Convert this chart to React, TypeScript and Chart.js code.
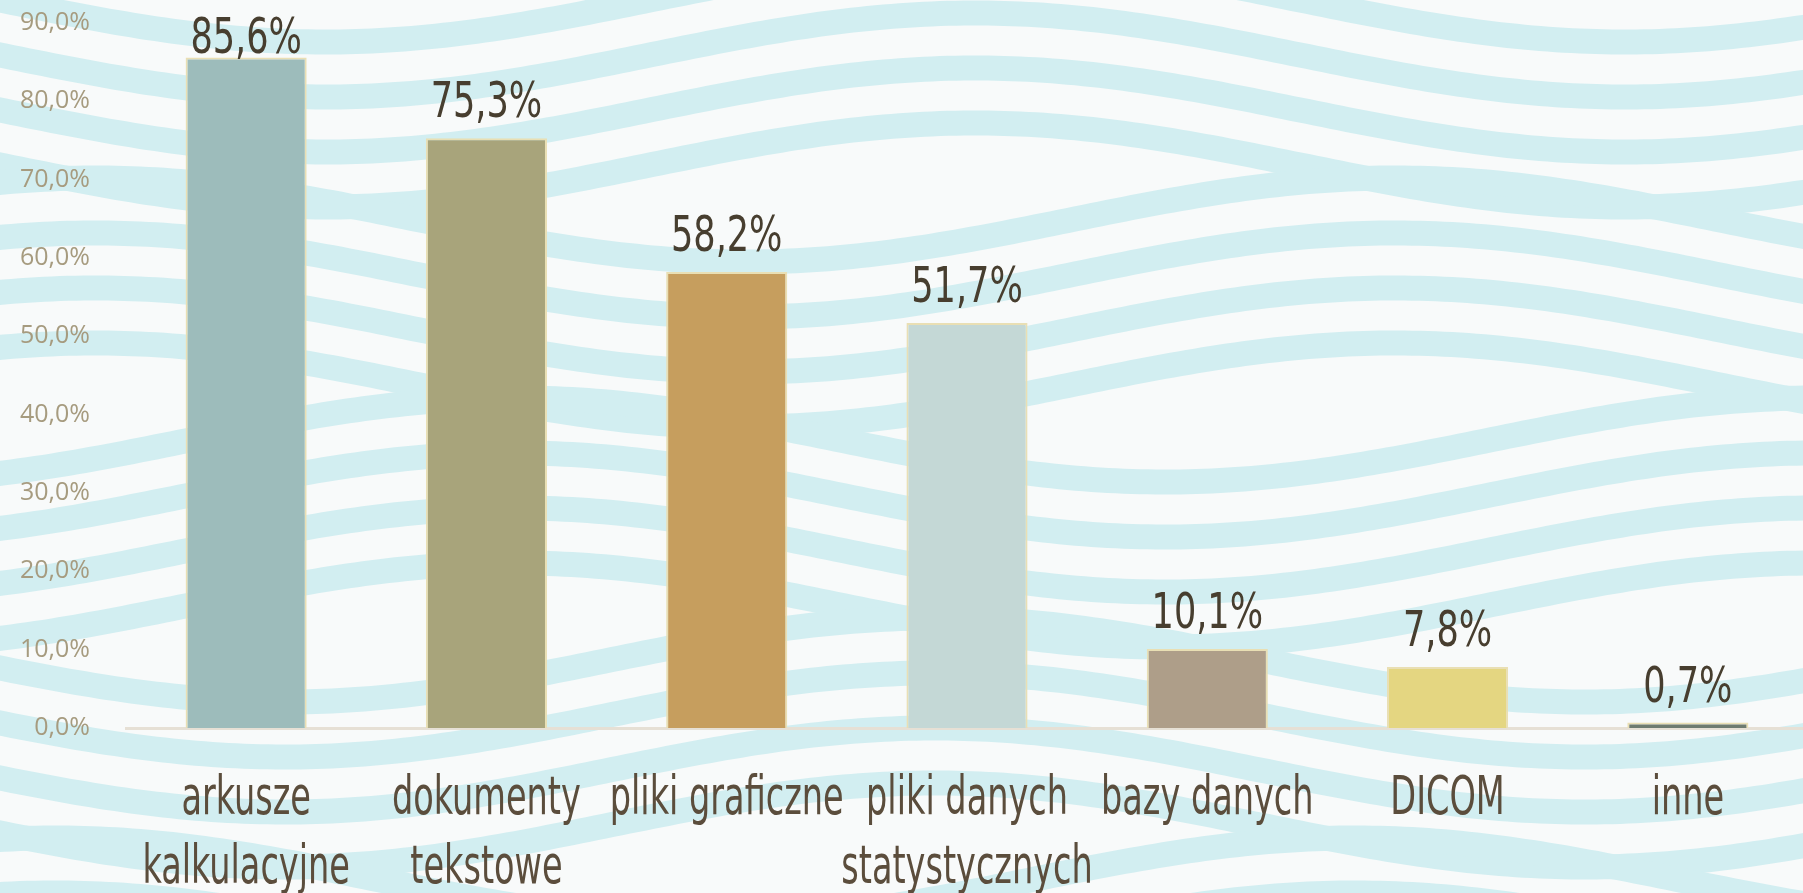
import React, { useEffect, useRef } from 'react';
import { Chart, registerables } from 'chart.js';

Chart.register(...registerables);

// ---- data ----
const categoryLines: string[][] = [
  ['arkusze', 'kalkulacyjne'],
  ['dokumenty', 'tekstowe'],
  ['pliki graficzne'],
  ['pliki danych', 'statystycznych'],
  ['bazy danych'],
  ['DICOM'],
  ['inne'],
];
const values: number[] = [85.6, 75.3, 58.2, 51.7, 10.1, 7.8, 0.7];
const barColors: string[] = ['#9DBCBB', '#A8A47B', '#C69E5E', '#C4D8D6', '#AE9E89', '#E4D681', '#6E7B70'];
const yMin = 0;
const yMax = 90;
const yStep = 10;

const W = 1808;
const H = 893;
const NARROW = '"DejaVu Sans Condensed", "Liberation Sans Narrow", Roboto, sans-serif';

const fmt = (v: number) => v.toFixed(1).replace('.', ',') + '%';

const backgroundPlugin = {
  id: 'wavyBackground',
  beforeDraw(chart: any) {
    const ctx = chart.ctx as CanvasRenderingContext2D;
    ctx.save();
    ctx.fillStyle = '#F8FAFA';
    ctx.fillRect(0, 0, chart.width, chart.height);
    const P = 55;
    const A = 42;
    const L = 1300;
    ctx.strokeStyle = '#D2EEF1';
    ctx.lineWidth = 25;
    for (let k = -5; k < chart.height / P + 5; k++) {
      const group = Math.floor(k / 4);
      const phase = (((group % 2) + 2) % 2) * Math.PI;
      const shift = group * 230;
      ctx.beginPath();
      for (let x = -20; x <= chart.width + 20; x += 8) {
        const y = k * P + A * Math.sin((2 * Math.PI * (x + shift)) / L + phase);
        if (x === -20) ctx.moveTo(x, y);
        else ctx.lineTo(x, y);
      }
      ctx.stroke();
    }
    ctx.restore();
  },
};

const labelsPlugin = {
  id: 'customLabels',
  afterDatasetsDraw(chart: any) {
    const ctx = chart.ctx as CanvasRenderingContext2D;
    const meta = chart.getDatasetMeta(0);
    ctx.save();
    ctx.fillStyle = '#473E2F';
    ctx.textAlign = 'center';
    ctx.textBaseline = 'alphabetic';
    ctx.font = `50px ${NARROW}`;
    meta.data.forEach((el: any, i: number) => {
      const baseline = Math.max(el.y - 21, 53);
      ctx.save();
      ctx.translate(el.x, baseline);
      ctx.scale(0.78, 1);
      ctx.fillText(fmt(values[i]), 0, 0);
      ctx.restore();
    });
    // category labels
    const xs = chart.scales.x;
    const bottom = chart.chartArea.bottom;
    ctx.fillStyle = '#5B4D3C';
    ctx.font = `54px ${NARROW}`;
    categoryLines.forEach((lines, i) => {
      const cx = xs.getPixelForValue(i);
      lines.forEach((line, j) => {
        ctx.save();
        ctx.translate(cx, bottom + 86 + j * 69);
        ctx.scale(0.69, 1);
        ctx.fillText(line, 0, 0);
        ctx.restore();
      });
    });
    ctx.restore();
  },
};

export default function App() {
  const ref = useRef<HTMLCanvasElement | null>(null);
  useEffect(() => {
    if (!ref.current) return;
    const chart = new Chart(ref.current, {
      type: 'bar',
      data: {
        labels: categoryLines.map((l) => l.join(' ')),
        datasets: [
          {
            data: values,
            backgroundColor: barColors,
            borderColor: '#E9DFB4',
            borderWidth: 2,
            barPercentage: 0.504,
            categoryPercentage: 1,
          },
        ],
      },
      options: {
        animation: false,
        responsive: false,
        devicePixelRatio: 1,
        layout: { padding: { top: 23, bottom: 165, left: 0, right: 0 } },
        plugins: { legend: { display: false }, tooltip: { enabled: false }, title: { display: false } },
        scales: {
          x: {
            grid: { display: false, drawTicks: false },
            border: { display: true, color: '#E6E0D5', width: 3 },
            ticks: { display: false },
            afterFit: (scale: any) => {
              scale.height = 0;
              scale.paddingLeft = 0;
              scale.paddingRight = 0;
            },
          },
          y: {
            min: yMin,
            max: yMax,
            grid: { display: false, drawTicks: false },
            border: { display: false },
            afterFit: (scale: any) => {
              scale.width = 126;
              scale.paddingTop = 0;
              scale.paddingBottom = 0;
            },
            ticks: {
              stepSize: yStep,
              padding: 36,
              color: '#A69B7F',
              font: { family: '"Open Sans", Roboto, sans-serif', size: 25 },
              callback: (v: any) => fmt(Number(v)),
            },
          },
        },
      },
      plugins: [backgroundPlugin, labelsPlugin],
    });
    return () => chart.destroy();
  }, []);
  return (
    <div style={{ position: 'absolute', left: 0, top: 0, width: 1803, height: 893, overflow: 'hidden' }}>
      <canvas ref={ref} width={W} height={H} style={{ width: W, height: H, display: 'block' }} />
    </div>
  );
}
